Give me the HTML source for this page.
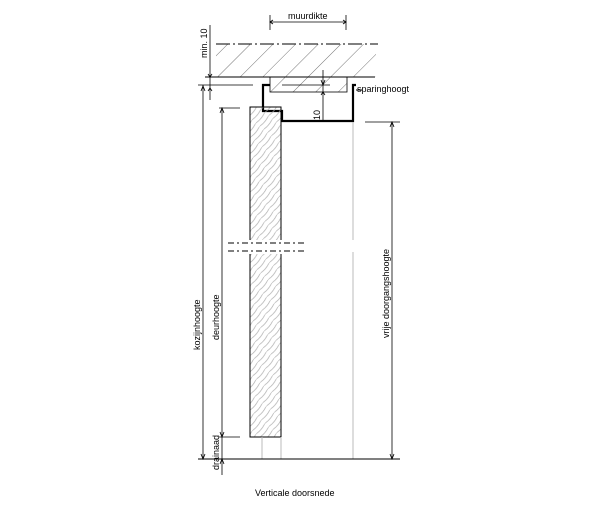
<!DOCTYPE html>
<html><head><meta charset="utf-8"><style>
html,body{margin:0;padding:0;background:#fff;width:615px;height:513px;overflow:hidden}
text{font-family:"Liberation Sans",sans-serif;font-size:9px;fill:#000}
</style></head><body>
<svg width="615" height="513" xmlns="http://www.w3.org/2000/svg">
<defs>
<pattern id="h" width="16" height="16" patternUnits="userSpaceOnUse" patternTransform="rotate(45)">
<line x1="0" y1="0" x2="0" y2="16" stroke="#666" stroke-width="0.9"/></pattern>
<pattern id="w" width="5" height="14" patternUnits="userSpaceOnUse" patternTransform="rotate(40)">
<path d="M0 0 Q2 7 0 14" stroke="#aaa" stroke-width="0.7" fill="none"/></pattern>
<marker id="a" markerWidth="6" markerHeight="6" refX="3" refY="0" orient="auto" markerUnits="userSpaceOnUse"><path d="M0,6 L3,0 L6,6" fill="none" stroke="#000" stroke-width="1"/></marker>
</defs>
<!-- wall -->
<rect x="216" y="44" width="160" height="33" fill="url(#h)"/>
<line x1="216" y1="44" x2="378" y2="44" stroke="#000" stroke-dasharray="14,3,2,3"/>
<line x1="205" y1="77" x2="375" y2="77" stroke="#000"/>
<rect x="270" y="77" width="77" height="15" fill="url(#h)" stroke="#000" stroke-width="0.8"/>
<line x1="198" y1="85" x2="253" y2="85" stroke="#000" stroke-width="0.8"/>
<line x1="282" y1="85" x2="330" y2="85" stroke="#000" stroke-width="0.8"/>
<!-- frame -->
<polyline points="270,85 263,85 263,111 282,111 282,121 353,121 353,85 356,85" fill="none" stroke="#000" stroke-width="2.2"/>
<line x1="356" y1="90" x2="362" y2="90" stroke="#000" stroke-width="1"/>
<!-- door leaf -->
<rect x="250" y="107" width="31" height="330" fill="url(#w)" stroke="#000" stroke-width="1"/>
<rect x="228" y="240" width="80" height="14" fill="#fff"/>
<line x1="228" y1="243" x2="305" y2="243" stroke="#000" stroke-dasharray="6,3,2,3"/>
<line x1="228" y1="251" x2="305" y2="251" stroke="#000" stroke-dasharray="6,3,2,3"/>
<!-- grey lines -->
<line x1="262" y1="437" x2="262" y2="459" stroke="#bbb"/>
<line x1="281" y1="437" x2="281" y2="459" stroke="#bbb"/>
<line x1="353" y1="122" x2="353" y2="240" stroke="#bbb"/>
<line x1="353" y1="252" x2="353" y2="459" stroke="#bbb"/>
<!-- floor -->
<line x1="198" y1="459" x2="400" y2="459" stroke="#000"/>
<!-- dims -->
<line x1="270" y1="15" x2="270" y2="30" stroke="#000" stroke-width="0.8"/>
<line x1="346" y1="15" x2="346" y2="30" stroke="#000" stroke-width="0.8"/>
<line x1="270" y1="22" x2="346" y2="22" stroke="#000" stroke-width="0.8"/>
<text x="288" y="19">muurdikte</text>
<line x1="210" y1="25" x2="210" y2="100" stroke="#000" stroke-width="0.8"/>
<text transform="translate(207,58) rotate(-90)">min. 10</text>
<line x1="203" y1="85" x2="203" y2="459" stroke="#000" stroke-width="0.8"/>
<text transform="translate(200,350) rotate(-90)">kozijnhoogte</text>
<line x1="219" y1="108" x2="240" y2="108" stroke="#000" stroke-width="0.8"/>
<line x1="222" y1="108" x2="222" y2="475" stroke="#000" stroke-width="0.8"/>
<line x1="219" y1="437" x2="240" y2="437" stroke="#000" stroke-width="0.8"/>
<text transform="translate(219,340) rotate(-90)">deurhoogte</text>
<text transform="translate(219,470) rotate(-90)">drainaad</text>
<line x1="365" y1="122" x2="400" y2="122" stroke="#000" stroke-width="0.8"/>
<line x1="392" y1="122" x2="392" y2="459" stroke="#000" stroke-width="0.8"/>
<text transform="translate(389,338) rotate(-90)">vrije doorgangshoogte</text>
<line x1="323" y1="70" x2="323" y2="122" stroke="#000" stroke-width="0.8"/>
<text transform="translate(320,120) rotate(-90)">10</text>
<text x="357" y="92">sparinghoogt</text>
<text x="255" y="496">Verticale doorsnede</text>
<!-- arrows -->
<g fill="none" stroke="#000" stroke-width="0.8">
<path d="M273,20 L270,22 L273,24 M343,20 L346,22 L343,24"/>
<path d="M208,74 L210,77 L212,74 M208,91 L210,88 L212,91"/>
<path d="M201,91 L203,86 L205,91 M201,454 L203,459 L205,454"/>
<path d="M220,113 L222,108 L224,113 M220,432 L222,437 L224,432 M220,464 L222,459 L224,464"/>
<path d="M390,127 L392,122 L394,127 M390,454 L392,459 L394,454"/>
<path d="M321,80 L323,85 L325,80 M321,95 L323,92 L325,95"/>
</g>
</svg>
</body></html>
